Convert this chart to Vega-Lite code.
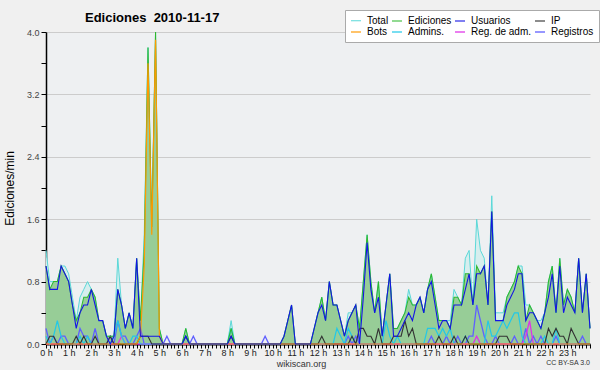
{
"$schema": "https://vega.github.io/schema/vega-lite/v6.json",
"autosize": "none",
"width": 544,
"height": 312,
"padding": {"left": 46, "top": 32, "right": 10, "bottom": 26},
"background": "#f0f0f0",
"config": {"view": {"fill": "#eef0f2", "stroke": null}, "font": "Liberation Sans"},
"title": {"text": "Ediciones\u00a0 2010-11-17", "anchor": "start", "frame": "group", "dx": 39, "dy": 36, "offset": 11, "fontSize": 13, "fontWeight": "bold", "font": "Liberation Sans", "color": "#000000", "baseline": "alphabetic"},
"resolve": {"axis": {"x": "independent", "y": "independent"}},
"layer": [
{
"data": {"values": [
{"m":0,"T":1.2,"E":1.0,"U":1.0,"IP":0,"B":0,"A":0.1,"RA":0,"RG":0.2},
{"m":10,"T":0.8,"E":0.7,"U":0.7,"IP":0.1,"B":0,"A":0,"RA":0,"RG":0},
{"m":20,"T":0.8,"E":0.8,"U":0.7,"IP":0.1,"B":0,"A":0.1,"RA":0,"RG":0.1},
{"m":30,"T":0.8,"E":0.8,"U":0.7,"IP":0,"B":0,"A":0.3,"RA":0,"RG":0},
{"m":40,"T":1.0,"E":1.0,"U":1.0,"IP":0,"B":0,"A":0.1,"RA":0,"RG":0.1},
{"m":50,"T":1.0,"E":0.9,"U":0.9,"IP":0,"B":0,"A":0,"RA":0,"RG":0.1},
{"m":60,"T":0.9,"E":0.8,"U":0.8,"IP":0,"B":0,"A":0,"RA":0,"RG":0},
{"m":70,"T":0.6,"E":0.5,"U":0.5,"IP":0,"B":0,"A":0,"RA":0,"RG":0},
{"m":80,"T":0.3,"E":0.3,"U":0.2,"IP":0.1,"B":0,"A":0,"RA":0,"RG":0},
{"m":90,"T":0.6,"E":0.4,"U":0.4,"IP":0,"B":0,"A":0.1,"RA":0,"RG":0.2},
{"m":100,"T":0.7,"E":0.6,"U":0.5,"IP":0.1,"B":0,"A":0,"RA":0,"RG":0.1},
{"m":110,"T":0.8,"E":0.6,"U":0.5,"IP":0,"B":0,"A":0.1,"RA":0,"RG":0.1},
{"m":120,"T":0.7,"E":0.7,"U":0.7,"IP":0,"B":0,"A":0,"RA":0,"RG":0},
{"m":130,"T":0.6,"E":0.6,"U":0.5,"IP":0.1,"B":0,"A":0,"RA":0,"RG":0.2},
{"m":140,"T":0.3,"E":0.3,"U":0.3,"IP":0,"B":0,"A":0,"RA":0,"RG":0},
{"m":150,"T":0.3,"E":0.3,"U":0.3,"IP":0,"B":0,"A":0,"RA":0,"RG":0},
{"m":160,"T":0.1,"E":0.1,"U":0.1,"IP":0,"B":0,"A":0,"RA":0,"RG":0},
{"m":170,"T":0.1,"E":0.1,"U":0,"IP":0.1,"B":0,"A":0,"RA":0,"RG":0.1},
{"m":180,"T":0.1,"E":0.1,"U":0.1,"IP":0,"B":0,"A":0.1,"RA":0,"RG":0},
{"m":190,"T":1.1,"E":0.7,"U":0.7,"IP":0,"B":0,"A":0.3,"RA":0,"RG":0.3},
{"m":200,"T":0.5,"E":0.5,"U":0.5,"IP":0,"B":0,"A":0.1,"RA":0.1,"RG":0.1},
{"m":210,"T":0.2,"E":0.2,"U":0.2,"IP":0,"B":0,"A":0,"RA":0,"RG":0.1},
{"m":220,"T":0.4,"E":0.4,"U":0.4,"IP":0,"B":0,"A":0,"RA":0,"RG":0},
{"m":230,"T":0.2,"E":0.2,"U":0.2,"IP":0,"B":0,"A":0.1,"RA":0,"RG":0},
{"m":240,"T":1.1,"E":1.1,"U":1.1,"IP":0,"B":0,"A":0.1,"RA":0,"RG":0.1},
{"m":250,"T":0.3,"E":0.3,"U":0.1,"IP":0.1,"B":0.1,"A":0,"RA":0,"RG":0.2},
{"m":260,"T":1.4,"E":1.2,"U":0.1,"IP":0.1,"B":1.0,"A":0,"RA":0,"RG":0},
{"m":270,"T":3.8,"E":3.8,"U":0.1,"IP":0.1,"B":3.6,"A":0,"RA":0,"RG":0},
{"m":280,"T":1.5,"E":1.5,"U":0.1,"IP":0,"B":1.4,"A":0,"RA":0,"RG":0},
{"m":290,"T":4.0,"E":4.0,"U":0.1,"IP":0,"B":3.9,"A":0,"RA":0,"RG":0},
{"m":300,"T":0.2,"E":0.2,"U":0.1,"IP":0,"B":0.1,"A":0,"RA":0,"RG":0},
{"m":310,"T":0,"E":0,"U":0,"IP":0,"B":0,"A":0,"RA":0,"RG":0},
{"m":320,"T":0,"E":0,"U":0,"IP":0,"B":0,"A":0,"RA":0,"RG":0.1},
{"m":330,"T":0,"E":0,"U":0,"IP":0,"B":0,"A":0,"RA":0,"RG":0},
{"m":340,"T":0,"E":0,"U":0,"IP":0,"B":0,"A":0,"RA":0,"RG":0},
{"m":350,"T":0,"E":0,"U":0,"IP":0,"B":0,"A":0,"RA":0,"RG":0},
{"m":360,"T":0,"E":0,"U":0,"IP":0,"B":0,"A":0,"RA":0,"RG":0},
{"m":370,"T":0.2,"E":0.2,"U":0.1,"IP":0.1,"B":0,"A":0.1,"RA":0,"RG":0},
{"m":380,"T":0,"E":0,"U":0,"IP":0,"B":0,"A":0,"RA":0,"RG":0},
{"m":390,"T":0,"E":0,"U":0,"IP":0,"B":0,"A":0,"RA":0,"RG":0.1},
{"m":400,"T":0,"E":0,"U":0,"IP":0,"B":0,"A":0,"RA":0,"RG":0},
{"m":410,"T":0,"E":0,"U":0,"IP":0,"B":0,"A":0,"RA":0,"RG":0},
{"m":420,"T":0,"E":0,"U":0,"IP":0,"B":0,"A":0,"RA":0,"RG":0},
{"m":430,"T":0,"E":0,"U":0,"IP":0,"B":0,"A":0,"RA":0,"RG":0},
{"m":440,"T":0,"E":0,"U":0,"IP":0,"B":0,"A":0,"RA":0,"RG":0},
{"m":450,"T":0,"E":0,"U":0,"IP":0,"B":0,"A":0,"RA":0,"RG":0},
{"m":460,"T":0,"E":0,"U":0,"IP":0,"B":0,"A":0,"RA":0,"RG":0},
{"m":470,"T":0,"E":0,"U":0,"IP":0,"B":0,"A":0,"RA":0,"RG":0},
{"m":480,"T":0,"E":0,"U":0,"IP":0,"B":0,"A":0,"RA":0,"RG":0},
{"m":490,"T":0.3,"E":0.2,"U":0.1,"IP":0.1,"B":0,"A":0.2,"RA":0,"RG":0},
{"m":500,"T":0,"E":0,"U":0,"IP":0,"B":0,"A":0,"RA":0,"RG":0},
{"m":510,"T":0,"E":0,"U":0,"IP":0,"B":0,"A":0,"RA":0,"RG":0},
{"m":520,"T":0,"E":0,"U":0,"IP":0,"B":0,"A":0,"RA":0,"RG":0},
{"m":530,"T":0,"E":0,"U":0,"IP":0,"B":0,"A":0,"RA":0,"RG":0},
{"m":540,"T":0,"E":0,"U":0,"IP":0,"B":0,"A":0,"RA":0,"RG":0},
{"m":550,"T":0,"E":0,"U":0,"IP":0,"B":0,"A":0,"RA":0,"RG":0},
{"m":560,"T":0,"E":0,"U":0,"IP":0,"B":0,"A":0,"RA":0,"RG":0},
{"m":570,"T":0,"E":0,"U":0,"IP":0,"B":0,"A":0,"RA":0,"RG":0},
{"m":580,"T":0,"E":0,"U":0,"IP":0,"B":0,"A":0,"RA":0,"RG":0.1},
{"m":590,"T":0,"E":0,"U":0,"IP":0,"B":0,"A":0,"RA":0,"RG":0},
{"m":600,"T":0,"E":0,"U":0,"IP":0,"B":0,"A":0,"RA":0,"RG":0},
{"m":610,"T":0,"E":0,"U":0,"IP":0,"B":0,"A":0,"RA":0,"RG":0},
{"m":620,"T":0,"E":0,"U":0,"IP":0,"B":0,"A":0,"RA":0,"RG":0},
{"m":630,"T":0.1,"E":0.1,"U":0.1,"IP":0,"B":0,"A":0,"RA":0,"RG":0},
{"m":640,"T":0.3,"E":0.3,"U":0.3,"IP":0,"B":0,"A":0,"RA":0,"RG":0},
{"m":650,"T":0.5,"E":0.5,"U":0.5,"IP":0,"B":0,"A":0,"RA":0,"RG":0},
{"m":660,"T":0,"E":0,"U":0,"IP":0,"B":0,"A":0,"RA":0,"RG":0},
{"m":670,"T":0,"E":0,"U":0,"IP":0,"B":0,"A":0,"RA":0,"RG":0},
{"m":680,"T":0,"E":0,"U":0,"IP":0,"B":0,"A":0,"RA":0,"RG":0},
{"m":690,"T":0,"E":0,"U":0,"IP":0,"B":0,"A":0,"RA":0,"RG":0},
{"m":700,"T":0,"E":0,"U":0,"IP":0,"B":0,"A":0,"RA":0,"RG":0},
{"m":710,"T":0.2,"E":0.2,"U":0.2,"IP":0,"B":0,"A":0,"RA":0,"RG":0},
{"m":720,"T":0.4,"E":0.4,"U":0.4,"IP":0,"B":0,"A":0,"RA":0,"RG":0},
{"m":730,"T":0.6,"E":0.6,"U":0.5,"IP":0.1,"B":0,"A":0,"RA":0,"RG":0},
{"m":740,"T":0.3,"E":0.3,"U":0.3,"IP":0,"B":0,"A":0,"RA":0,"RG":0},
{"m":750,"T":0.8,"E":0.8,"U":0.8,"IP":0,"B":0,"A":0,"RA":0,"RG":0},
{"m":760,"T":0.5,"E":0.5,"U":0.5,"IP":0,"B":0,"A":0,"RA":0,"RG":0},
{"m":770,"T":0.5,"E":0.5,"U":0.5,"IP":0,"B":0,"A":0.2,"RA":0,"RG":0},
{"m":780,"T":0.3,"E":0.3,"U":0.3,"IP":0,"B":0,"A":0.1,"RA":0,"RG":0},
{"m":790,"T":0.1,"E":0.1,"U":0.1,"IP":0,"B":0,"A":0,"RA":0,"RG":0},
{"m":800,"T":0.4,"E":0.3,"U":0.3,"IP":0,"B":0,"A":0.2,"RA":0,"RG":0.1},
{"m":810,"T":0.4,"E":0.4,"U":0.4,"IP":0.1,"B":0,"A":0.1,"RA":0,"RG":0},
{"m":820,"T":0.5,"E":0.5,"U":0.5,"IP":0,"B":0,"A":0,"RA":0,"RG":0.1},
{"m":830,"T":0.2,"E":0.2,"U":0,"IP":0.2,"B":0,"A":0,"RA":0,"RG":0},
{"m":840,"T":0.8,"E":0.8,"U":0.6,"IP":0.2,"B":0,"A":0,"RA":0,"RG":0},
{"m":850,"T":1.4,"E":1.4,"U":1.3,"IP":0.1,"B":0,"A":0,"RA":0,"RG":0},
{"m":860,"T":0.8,"E":0.8,"U":0.7,"IP":0.1,"B":0,"A":0,"RA":0,"RG":0},
{"m":870,"T":0.4,"E":0.4,"U":0.4,"IP":0,"B":0,"A":0,"RA":0,"RG":0},
{"m":880,"T":0.8,"E":0.8,"U":0.6,"IP":0.2,"B":0,"A":0,"RA":0,"RG":0},
{"m":890,"T":0.1,"E":0.1,"U":0.1,"IP":0,"B":0,"A":0,"RA":0,"RG":0},
{"m":900,"T":0.5,"E":0.5,"U":0.5,"IP":0,"B":0,"A":0.3,"RA":0,"RG":0},
{"m":910,"T":0.9,"E":0.9,"U":0.9,"IP":0,"B":0,"A":0.1,"RA":0,"RG":0},
{"m":920,"T":0.2,"E":0.2,"U":0.1,"IP":0.1,"B":0,"A":0,"RA":0,"RG":0},
{"m":930,"T":0.2,"E":0.2,"U":0.1,"IP":0.1,"B":0,"A":0.1,"RA":0,"RG":0},
{"m":940,"T":0.3,"E":0.3,"U":0.2,"IP":0.1,"B":0,"A":0,"RA":0,"RG":0},
{"m":950,"T":0.4,"E":0.4,"U":0.3,"IP":0.3,"B":0,"A":0,"RA":0,"RG":0},
{"m":960,"T":0.7,"E":0.6,"U":0.4,"IP":0.1,"B":0,"A":0,"RA":0,"RG":0},
{"m":970,"T":0.5,"E":0.5,"U":0.3,"IP":0.2,"B":0,"A":0,"RA":0,"RG":0},
{"m":980,"T":0.5,"E":0.5,"U":0.5,"IP":0,"B":0,"A":0,"RA":0,"RG":0},
{"m":990,"T":0.6,"E":0.6,"U":0.6,"IP":0,"B":0,"A":0,"RA":0,"RG":0},
{"m":1000,"T":0.4,"E":0.4,"U":0.4,"IP":0,"B":0,"A":0,"RA":0,"RG":0},
{"m":1010,"T":0.7,"E":0.7,"U":0.7,"IP":0,"B":0,"A":0.2,"RA":0,"RG":0},
{"m":1020,"T":0.9,"E":0.9,"U":0.8,"IP":0,"B":0,"A":0.2,"RA":0,"RG":0.1},
{"m":1030,"T":0.6,"E":0.6,"U":0.5,"IP":0,"B":0,"A":0.2,"RA":0,"RG":0},
{"m":1040,"T":0.3,"E":0.3,"U":0.2,"IP":0.1,"B":0,"A":0.1,"RA":0,"RG":0},
{"m":1050,"T":0.3,"E":0.3,"U":0.3,"IP":0,"B":0,"A":0.2,"RA":0,"RG":0},
{"m":1060,"T":0.3,"E":0.3,"U":0.3,"IP":0,"B":0,"A":0.1,"RA":0,"RG":0.1},
{"m":1070,"T":0.3,"E":0.2,"U":0.2,"IP":0,"B":0,"A":0.2,"RA":0,"RG":0},
{"m":1080,"T":0.7,"E":0.6,"U":0.5,"IP":0.1,"B":0,"A":0,"RA":0,"RG":0},
{"m":1090,"T":0.6,"E":0.6,"U":0.5,"IP":0,"B":0,"A":0,"RA":0,"RG":0.1},
{"m":1100,"T":0.5,"E":0.5,"U":0.5,"IP":0,"B":0,"A":0,"RA":0,"RG":0},
{"m":1110,"T":1.1,"E":0.9,"U":0.7,"IP":0.1,"B":0,"A":0.1,"RA":0,"RG":0},
{"m":1120,"T":1.2,"E":0.9,"U":0.9,"IP":0,"B":0,"A":0,"RA":0,"RG":0.1},
{"m":1130,"T":0.5,"E":0.5,"U":0.5,"IP":0,"B":0,"A":0,"RA":0,"RG":0.1},
{"m":1140,"T":1.6,"E":1.0,"U":0.9,"IP":0,"B":0,"A":0,"RA":0.1,"RG":0.5},
{"m":1150,"T":1.2,"E":0.9,"U":0.9,"IP":0,"B":0,"A":0,"RA":0,"RG":0.3},
{"m":1160,"T":1.1,"E":1.0,"U":1.0,"IP":0,"B":0,"A":0,"RA":0,"RG":0.1},
{"m":1170,"T":0.5,"E":0.5,"U":0.5,"IP":0,"B":0,"A":0.3,"RA":0,"RG":0},
{"m":1180,"T":1.9,"E":1.7,"U":1.7,"IP":0,"B":0,"A":0.1,"RA":0,"RG":0},
{"m":1190,"T":0.4,"E":0.3,"U":0.3,"IP":0,"B":0,"A":0.1,"RA":0,"RG":0.1},
{"m":1200,"T":0.4,"E":0.3,"U":0.3,"IP":0.1,"B":0,"A":0.2,"RA":0,"RG":0},
{"m":1210,"T":0.4,"E":0.3,"U":0.3,"IP":0.1,"B":0,"A":0.3,"RA":0,"RG":0},
{"m":1220,"T":0.6,"E":0.6,"U":0.5,"IP":0.1,"B":0,"A":0.2,"RA":0,"RG":0},
{"m":1230,"T":0.7,"E":0.7,"U":0.6,"IP":0,"B":0,"A":0.3,"RA":0,"RG":0},
{"m":1240,"T":0.8,"E":0.8,"U":0.7,"IP":0,"B":0,"A":0.4,"RA":0,"RG":0.1},
{"m":1250,"T":1.0,"E":1.0,"U":0.9,"IP":0,"B":0,"A":0.4,"RA":0,"RG":0},
{"m":1260,"T":1.0,"E":0.9,"U":0.9,"IP":0,"B":0,"A":0.1,"RA":0,"RG":0},
{"m":1270,"T":0.5,"E":0.3,"U":0.3,"IP":0,"B":0,"A":0,"RA":0.1,"RG":0.2},
{"m":1280,"T":0.5,"E":0.5,"U":0.4,"IP":0,"B":0,"A":0,"RA":0.3,"RG":0},
{"m":1290,"T":0.4,"E":0.4,"U":0.4,"IP":0,"B":0,"A":0,"RA":0,"RG":0.1},
{"m":1300,"T":0.3,"E":0.3,"U":0.3,"IP":0,"B":0,"A":0,"RA":0,"RG":0},
{"m":1310,"T":0.3,"E":0.2,"U":0.2,"IP":0,"B":0,"A":0,"RA":0,"RG":0.1},
{"m":1320,"T":0.4,"E":0.4,"U":0.4,"IP":0,"B":0,"A":0.1,"RA":0,"RG":0},
{"m":1330,"T":0.8,"E":0.8,"U":0.6,"IP":0.2,"B":0,"A":0,"RA":0,"RG":0},
{"m":1340,"T":1.0,"E":1.0,"U":0.9,"IP":0.1,"B":0,"A":0,"RA":0,"RG":0},
{"m":1350,"T":0.4,"E":0.4,"U":0.4,"IP":0.2,"B":0,"A":0.2,"RA":0,"RG":0.1},
{"m":1360,"T":1.1,"E":1.1,"U":1.0,"IP":0.1,"B":0,"A":0,"RA":0,"RG":0},
{"m":1370,"T":0.5,"E":0.5,"U":0.4,"IP":0.1,"B":0,"A":0,"RA":0,"RG":0},
{"m":1380,"T":0.7,"E":0.7,"U":0.6,"IP":0,"B":0,"A":0,"RA":0,"RG":0},
{"m":1390,"T":0.6,"E":0.6,"U":0.5,"IP":0.2,"B":0,"A":0,"RA":0,"RG":0},
{"m":1400,"T":0.4,"E":0.4,"U":0.4,"IP":0.1,"B":0,"A":0,"RA":0,"RG":0},
{"m":1410,"T":1.1,"E":1.1,"U":1.1,"IP":0,"B":0,"A":0,"RA":0,"RG":0},
{"m":1420,"T":0.4,"E":0.4,"U":0.4,"IP":0,"B":0,"A":0,"RA":0,"RG":0.1},
{"m":1430,"T":0.9,"E":0.9,"U":0.9,"IP":0,"B":0,"A":0,"RA":0,"RG":0},
{"m":1440,"T":0.2,"E":0.2,"U":0.2,"IP":0,"B":0,"A":0,"RA":0,"RG":0}
]},
"transform": [{"fold": ["T", "RG", "RA", "A", "IP", "E", "B", "U"], "as": ["s", "v"]}],
"encoding": {
  "x": {"field": "m", "type": "quantitative", "scale": {"domain": [0, 1440], "nice": false, "zero": false},
   "axis": {"values": [0,10,20,30,40,50,60,70,80,90,100,110,120,130,140,150,160,170,180,190,200,210,220,230,240,250,260,270,280,290,300,310,320,330,340,350,360,370,380,390,400,410,420,430,440,450,460,470,480,490,500,510,520,530,540,550,560,570,580,590,600,610,620,630,640,650,660,670,680,690,700,710,720,730,740,750,760,770,780,790,800,810,820,830,840,850,860,870,880,890,900,910,920,930,940,950,960,970,980,990,1000,1010,1020,1030,1040,1050,1060,1070,1080,1090,1100,1110,1120,1130,1140,1150,1160,1170,1180,1190,1200,1210,1220,1230,1240,1250,1260,1270,1280,1290,1300,1310,1320,1330,1340,1350,1360,1370,1380,1390,1400,1410,1420,1430,1440],
    "labelExpr": "datum.value % 60 == 0 && datum.value < 1440 ? (datum.value / 60) + ' h' : ''",
    "grid": false, "domainColor": "#000000", "domainWidth": 2, "tickColor": "#000000", "tickSize": 4, "tickWidth": 1,
    "labelFontSize": 9, "labelColor": "#222222", "labelPadding": 0, "labelOverlap": false, "labelFlush": false,
    "title": "wikiscan.org", "titleFontSize": 9, "titleFontWeight": "normal", "titleColor": "#333333",
    "titleX": 255, "titleY": 22, "titleBaseline": "alphabetic", "titleAlign": "center"}},
  "y": {"field": "v", "type": "quantitative", "scale": {"domain": [0, 4], "nice": false},
   "axis": {"values": [0,0.4,0.8,1.2,1.6,2.0,2.4,2.8,3.2,3.6,4.0],
    "labelExpr": "round(datum.value * 10) % 8 == 0 ? format(datum.value, '.1f') : ''",
    "grid": true,
    "gridColor": {"condition": {"test": "round(datum.value * 10) % 8 == 0 && datum.value > 0", "value": "#cccccc"}, "value": "transparent"},
    "domainColor": "#000000", "domainWidth": 1.5, "tickColor": "#000000", "tickSize": 5,
    "labelFontSize": 9, "labelColor": "#444444", "labelPadding": 2, "labelOverlap": false,
    "title": "Ediciones/min", "titleFontSize": 12, "titleFontWeight": "normal", "titleColor": "#000000", "titlePadding": 10}}
},
"layer": [
{"transform": [{"filter": "datum.s == 'T'"}],
 "mark": {"type": "area", "color": "#d6eeee", "interpolate": "linear"}},
{"transform": [{"filter": "datum.s == 'E'"}],
 "mark": {"type": "area", "color": "#97cd97", "interpolate": "linear"}},
{"mark": {"type": "line", "interpolate": "linear"},
 "encoding": {
  "color": {"field": "s", "type": "nominal",
   "scale": {"domain": ["T", "E", "U", "IP", "B", "A", "RA", "RG"],
    "range": ["#5ad8d8", "#2eb82e", "#1414e6", "#333333", "#ff9900", "#22c8e8", "#e030e8", "#5f5fff"]},
   "legend": {"orient": "none", "legendX": 299, "legendY": -22, "columns": 4, "direction": "horizontal",
    "symbolType": "stroke", "symbolSize": 100, "symbolStrokeWidth": 1.5,
    "labelFontSize": 10, "labelFont": "Liberation Sans", "labelColor": "#000000",
    "columnPadding": 0, "rowPadding": -2, "labelOffset": 5, "padding": 5,
    "fillColor": "#ffffff", "strokeColor": "#aaaaaa", "title": null,
    "labelExpr": "datum.label == 'T' ? 'Total' : datum.label == 'E' ? 'Ediciones' : datum.label == 'U' ? 'Usuarios' : datum.label == 'IP' ? 'IP' : datum.label == 'B' ? 'Bots' : datum.label == 'A' ? 'Admins.' : datum.label == 'RA' ? 'Reg. de adm.' : 'Registros'"}},
  "strokeWidth": {"field": "s", "type": "nominal",
   "scale": {"domain": ["T", "E", "U", "IP", "B", "A", "RA", "RG"], "range": [1, 1.3, 1.6, 1, 1.5, 1, 1, 1]},
   "legend": null}
 }}
]
},
{"data": {"values": [{"label": "CC BY-SA 3.0"}]},
 "mark": {"type": "text", "align": "right", "baseline": "alphabetic", "fontSize": 7, "color": "#333333", "font": "Liberation Sans"},
 "encoding": {
  "x": {"datum": 1440, "type": "quantitative", "axis": null},
  "y": {"datum": -0.27, "type": "quantitative", "axis": null},
  "text": {"field": "label", "type": "nominal"}
 }}
]
}
